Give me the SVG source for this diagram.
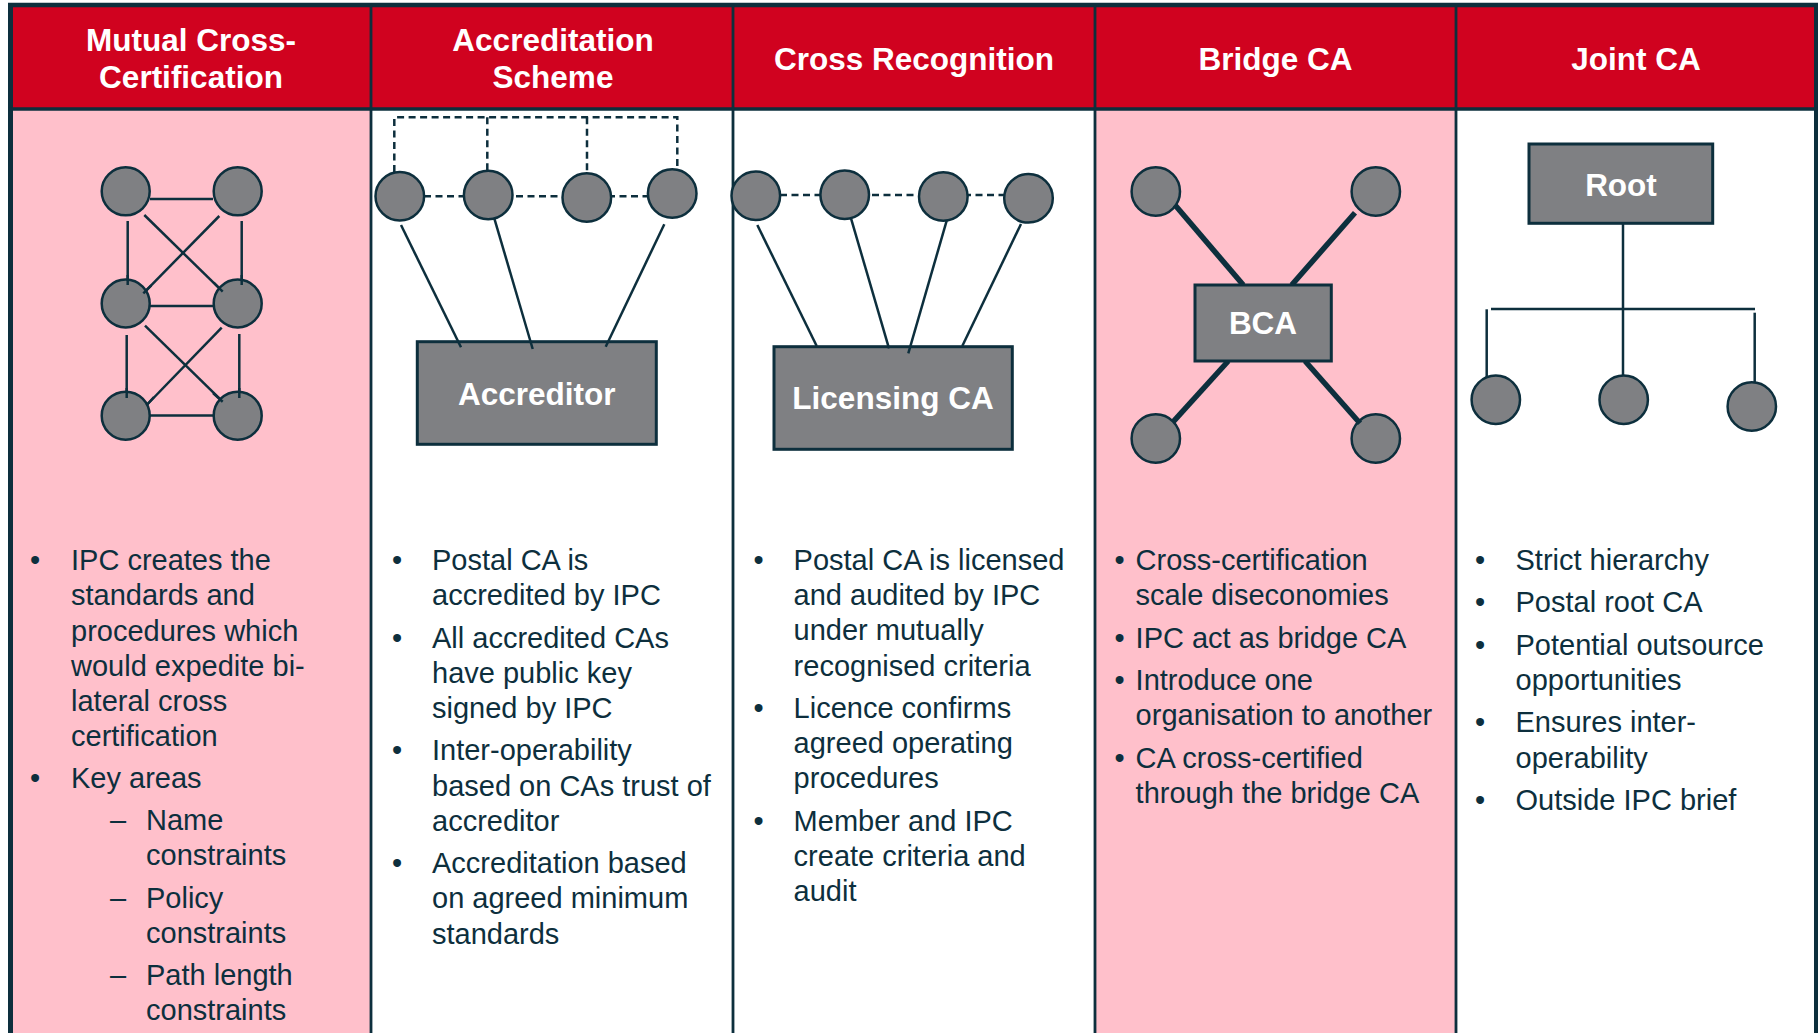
<svg xmlns="http://www.w3.org/2000/svg" width="1819" height="1033" viewBox="0 0 1819 1033">
<style>
.hdr{font-family:"Liberation Sans",Arial,sans-serif;font-weight:bold;font-size:31.5px;fill:#fff;text-anchor:middle}
.txt{font-family:"Liberation Sans",Arial,sans-serif;font-size:29px;fill:#0d2f3d}
.bul{text-anchor:middle}
.node{fill:#7f8083;stroke:#0d2f3d;stroke-width:2.5}
.box{fill:#7f8083;stroke:#0d2f3d;stroke-width:3}
.lbl{font-family:"Liberation Sans",Arial,sans-serif;font-weight:bold;font-size:31.5px;fill:#fff;text-anchor:middle}
.ln{stroke:#0d2f3d;stroke-width:2.5;fill:none}
.thick{stroke:#0d2f3d;stroke-width:5.5;fill:none}
.dash{stroke:#0d2f3d;stroke-width:2.5;fill:none;stroke-dasharray:7 4.5}
.frame{stroke:#0d2f3d;fill:none}
</style>
<rect x="0" y="0" width="1819" height="1033" fill="#ffffff"/>
<g id="backgrounds">
<rect x="10" y="109" width="361" height="924" fill="#ffc0cb"/>
<rect x="371" y="109" width="362" height="924" fill="#ffffff"/>
<rect x="733" y="109" width="362" height="924" fill="#ffffff"/>
<rect x="1095" y="109" width="361" height="924" fill="#ffc0cb"/>
<rect x="1456" y="109" width="360" height="924" fill="#ffffff"/>
<rect x="10" y="5" width="1806" height="104" fill="#d0021f"/>
</g>
<g id="frame">
<line class="frame" x1="8" y1="5" x2="1818" y2="5" stroke-width="4.5"/>
<line class="frame" x1="10.5" y1="3" x2="10.5" y2="1033" stroke-width="5"/>
<line class="frame" x1="1816" y1="3" x2="1816" y2="1033" stroke-width="4"/>
<line class="frame" x1="8" y1="109" x2="1818" y2="109" stroke-width="3.5"/>
<line class="frame" x1="371" y1="5" x2="371" y2="1033" stroke-width="2.8"/>
<line class="frame" x1="733" y1="5" x2="733" y2="1033" stroke-width="2.8"/>
<line class="frame" x1="1095" y1="5" x2="1095" y2="1033" stroke-width="2.8"/>
<line class="frame" x1="1456" y1="5" x2="1456" y2="1033" stroke-width="2.8"/>
</g>
<g id="headers">
<text class="hdr" x="191" y="51">Mutual Cross-</text>
<text class="hdr" x="191" y="88">Certification</text>
<text class="hdr" x="553" y="51">Accreditation</text>
<text class="hdr" x="553" y="88">Scheme</text>
<text class="hdr" x="914" y="70">Cross Recognition</text>
<text class="hdr" x="1275.5" y="70">Bridge CA</text>
<text class="hdr" x="1636" y="70">Joint CA</text>
</g>
<g id="connectors">
<line class="ln" x1="150" y1="199" x2="213" y2="199"/>
<line class="ln" x1="150" y1="306" x2="213" y2="306"/>
<line class="ln" x1="150" y1="415.5" x2="213" y2="415.5"/>
<line class="ln" x1="127.7" y1="221" x2="127.7" y2="285"/>
<line class="ln" x1="241.7" y1="221" x2="241.7" y2="285"/>
<line class="ln" x1="144.3" y1="215" x2="222.7" y2="291.7"/>
<line class="ln" x1="219.3" y1="216" x2="143.3" y2="293.3"/>
<line class="ln" x1="126.7" y1="335" x2="126.7" y2="398"/>
<line class="ln" x1="239.3" y1="334" x2="239.3" y2="398"/>
<line class="ln" x1="145" y1="325.7" x2="222.7" y2="401.7"/>
<line class="ln" x1="221.7" y1="327.7" x2="146.7" y2="405"/>
<path class="dash" d="M394.3 172 V117.3 H677.3 V168"/>
<line class="dash" x1="487.3" y1="117.3" x2="487.3" y2="170"/>
<line class="dash" x1="587" y1="117.3" x2="587" y2="173"/>
<line class="dash" x1="424" y1="196.3" x2="648" y2="196.3"/>
<line class="dash" x1="780" y1="195" x2="1004" y2="195"/>
<line class="ln" x1="1623" y1="221" x2="1623" y2="376"/>
<line class="ln" x1="1491" y1="309" x2="1755" y2="309"/>
<line class="ln" x1="1486.7" y1="309.3" x2="1486.7" y2="377"/>
<line class="ln" x1="1754.7" y1="312.7" x2="1754.7" y2="382"/>
</g>
<g id="mc-n1"><circle class="node" cx="125.7" cy="191.3" r="24"/></g>
<g id="mc-n2"><circle class="node" cx="237.7" cy="191.3" r="24"/></g>
<g id="mc-n3"><circle class="node" cx="125.7" cy="303.5" r="24"/></g>
<g id="mc-n4"><circle class="node" cx="237.7" cy="303.5" r="24"/></g>
<g id="mc-n5"><circle class="node" cx="125.7" cy="415.7" r="24"/></g>
<g id="mc-n6"><circle class="node" cx="237.7" cy="415.7" r="24"/></g>
<g id="connectors-over">
<line class="ln" x1="127.7" y1="275" x2="127.7" y2="285"/>
<line class="ln" x1="241.7" y1="275" x2="241.7" y2="285"/>
<line class="ln" x1="213.7" y1="282.5" x2="222.7" y2="291.7"/>
<line class="ln" x1="151.3" y1="285.3" x2="143.3" y2="293.3"/>
<line class="ln" x1="126.7" y1="388" x2="126.7" y2="398"/>
<line class="ln" x1="239.3" y1="388" x2="239.3" y2="398"/>
<line class="ln" x1="213" y1="393" x2="222.7" y2="401.7"/>
<line class="ln" x1="154" y1="397" x2="146.7" y2="405"/>
</g>
<g id="as-n1"><circle class="node" cx="399.8" cy="196.2" r="24.3"/></g>
<g id="as-n2"><circle class="node" cx="488.2" cy="195" r="24.3"/></g>
<g id="as-n3"><circle class="node" cx="586.8" cy="197.5" r="24.3"/></g>
<g id="as-n4"><circle class="node" cx="672.2" cy="193.5" r="24.3"/></g>
<g id="accreditor"><rect class="box" x="417.3" y="341.7" width="239" height="102.6"/><text class="lbl" x="536.8" y="405">Accreditor</text></g>
<g id="connectors-2">
<line class="ln" x1="401" y1="225" x2="461" y2="347.3"/>
<line class="ln" x1="494.3" y1="218.3" x2="532.7" y2="349"/>
<line class="ln" x1="664.3" y1="224.3" x2="605.7" y2="346.7"/>
</g>
<g id="cr-n1"><circle class="node" cx="755.8" cy="195.8" r="24.3"/></g>
<g id="cr-n2"><circle class="node" cx="844.7" cy="194.8" r="24.3"/></g>
<g id="cr-n3"><circle class="node" cx="943.3" cy="196.5" r="24.3"/></g>
<g id="cr-n4"><circle class="node" cx="1028.5" cy="198.3" r="24.3"/></g>
<g id="licensing-ca"><rect class="box" x="774" y="346.7" width="238.3" height="102.6"/><text class="lbl" x="893" y="409.3">Licensing CA</text></g>
<g id="connectors-3">
<line class="ln" x1="757.3" y1="225" x2="816.7" y2="346"/>
<line class="ln" x1="851" y1="218.3" x2="889" y2="348.3"/>
<line class="ln" x1="946.7" y1="220.7" x2="908.3" y2="353.3"/>
<line class="ln" x1="1021" y1="224" x2="962.3" y2="346"/>
</g>
<g id="bca-n1"><circle class="node" cx="1155.8" cy="191.5" r="24.2"/></g>
<g id="bca-n2"><circle class="node" cx="1375.8" cy="191.5" r="24.2"/></g>
<g id="bca-n3"><circle class="node" cx="1155.8" cy="438.5" r="24.2"/></g>
<g id="bca-n4"><circle class="node" cx="1375.8" cy="438.5" r="24.2"/></g>
<g id="connectors-4">
<line class="thick" x1="1175" y1="205" x2="1243.3" y2="285"/>
<line class="thick" x1="1355" y1="212.7" x2="1291.7" y2="285"/>
<line class="thick" x1="1228.3" y1="361" x2="1173.3" y2="421.7"/>
<line class="thick" x1="1305" y1="361" x2="1360" y2="423.3"/>
</g>
<g id="bca"><rect class="box" x="1195" y="285" width="136.3" height="76"/><text class="lbl" x="1263" y="334">BCA</text></g>
<g id="root"><rect class="box" x="1529" y="144" width="183.7" height="79.3"/><text class="lbl" x="1621" y="195.7">Root</text></g>
<g id="jc-n1"><circle class="node" cx="1495.8" cy="399.8" r="24.2"/></g>
<g id="jc-n2"><circle class="node" cx="1623.7" cy="399.8" r="24.2"/></g>
<g id="jc-n3"><circle class="node" cx="1751.8" cy="406.5" r="24.2"/></g>
<g id="text-col1" class="txt">
<text class="bul" x="35" y="570">•</text>
<text x="71" y="570">IPC creates the</text>
<text x="71" y="605">standards and</text>
<text x="71" y="641">procedures which</text>
<text x="71" y="676">would expedite bi-</text>
<text x="71" y="711">lateral cross</text>
<text x="71" y="746">certification</text>
<text class="bul" x="35" y="788">•</text>
<text x="71" y="788">Key areas</text>
<text x="110" y="830">–</text>
<text x="146" y="830">Name</text>
<text x="146" y="865">constraints</text>
<text x="110" y="908">–</text>
<text x="146" y="908">Policy</text>
<text x="146" y="943">constraints</text>
<text x="110" y="985">–</text>
<text x="146" y="985">Path length</text>
<text x="146" y="1020">constraints</text>
</g>
<g id="text-col2" class="txt">
<text class="bul" x="397" y="570">•</text>
<text x="432" y="570">Postal CA is</text>
<text x="432" y="605">accredited by IPC</text>
<text class="bul" x="397" y="648">•</text>
<text x="432" y="648">All accredited CAs</text>
<text x="432" y="683">have public key</text>
<text x="432" y="718">signed by IPC</text>
<text class="bul" x="397" y="760">•</text>
<text x="432" y="760">Inter-operability</text>
<text x="432" y="796">based on CAs trust of</text>
<text x="432" y="831">accreditor</text>
<text class="bul" x="397" y="873">•</text>
<text x="432" y="873">Accreditation based</text>
<text x="432" y="908">on agreed minimum</text>
<text x="432" y="944">standards</text>
</g>
<g id="text-col3" class="txt">
<text class="bul" x="758.5" y="570">•</text>
<text x="793.6" y="570">Postal CA is licensed</text>
<text x="793.6" y="605">and audited by IPC</text>
<text x="793.6" y="640">under mutually</text>
<text x="793.6" y="676">recognised criteria</text>
<text class="bul" x="758.5" y="718">•</text>
<text x="793.6" y="718">Licence confirms</text>
<text x="793.6" y="753">agreed operating</text>
<text x="793.6" y="788">procedures</text>
<text class="bul" x="758.5" y="831">•</text>
<text x="793.6" y="831">Member and IPC</text>
<text x="793.6" y="866">create criteria and</text>
<text x="793.6" y="901">audit</text>
</g>
<g id="text-col4" class="txt">
<text class="bul" x="1119.5" y="570">•</text>
<text x="1135.6" y="570">Cross-certification</text>
<text x="1135.6" y="605">scale diseconomies</text>
<text class="bul" x="1119.5" y="648">•</text>
<text x="1135.6" y="648">IPC act as bridge CA</text>
<text class="bul" x="1119.5" y="690">•</text>
<text x="1135.6" y="690">Introduce one</text>
<text x="1135.6" y="725">organisation to another</text>
<text class="bul" x="1119.5" y="768">•</text>
<text x="1135.6" y="768">CA cross-certified</text>
<text x="1135.6" y="803">through the bridge CA</text>
</g>
<g id="text-col5" class="txt">
<text class="bul" x="1480" y="570">•</text>
<text x="1515.5" y="570">Strict hierarchy</text>
<text class="bul" x="1480" y="612">•</text>
<text x="1515.5" y="612">Postal root CA</text>
<text class="bul" x="1480" y="655">•</text>
<text x="1515.5" y="655">Potential outsource</text>
<text x="1515.5" y="690">opportunities</text>
<text class="bul" x="1480" y="732">•</text>
<text x="1515.5" y="732">Ensures inter-</text>
<text x="1515.5" y="768">operability</text>
<text class="bul" x="1480" y="810">•</text>
<text x="1515.5" y="810">Outside IPC brief</text>
</g>
</svg>
